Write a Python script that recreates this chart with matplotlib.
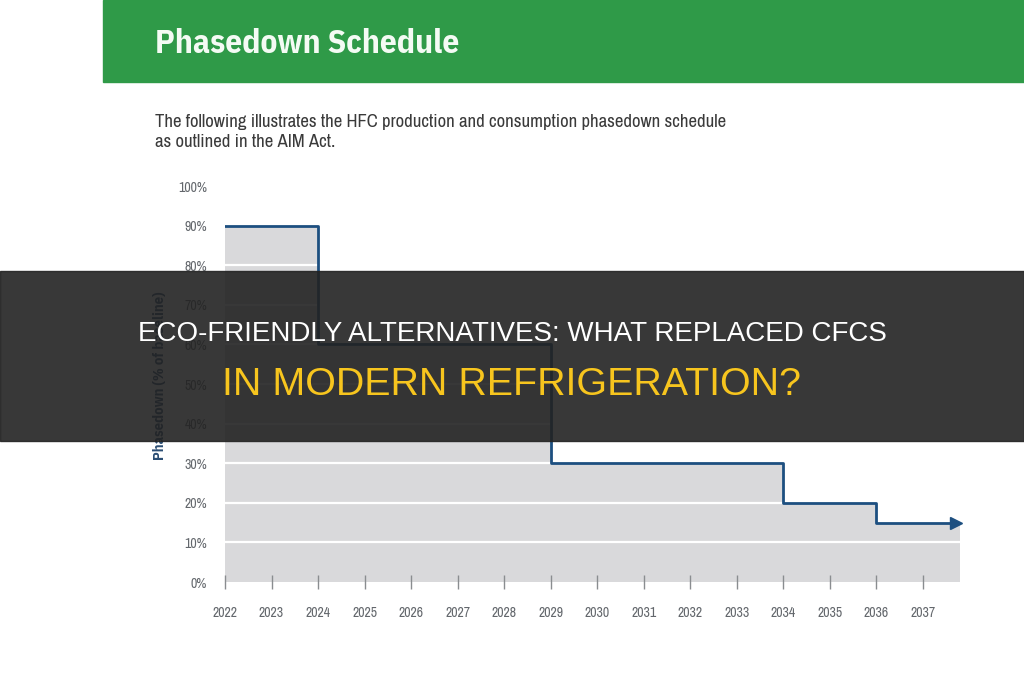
import matplotlib
matplotlib.use("Agg")
import matplotlib.pyplot as plt
from matplotlib.patches import Rectangle

# data
step_years = [2022, 2024, 2029, 2034, 2036, 2037.8]
step_values = [90, 60, 30, 20, 15, 15]
tick_years = list(range(2022, 2038))
y_ticks = [0, 10, 20, 30, 40, 50, 60, 70, 80, 90, 100]
grid_levels = [10, 20, 30, 40, 50, 60, 70, 80]

title = "Phasedown Schedule"
subtitle = ("The following illustrates the HFC production and consumption phasedown schedule\n"
            "as outlined in the AIM Act.")
overlay_1 = "ECO-FRIENDLY ALTERNATIVES: WHAT REPLACED CFCS"
overlay_2 = "IN MODERN REFRIGERATION?"

W, H = 1024, 680
narrow = ["Archivo Narrow", "IBM Plex Sans Condensed", "DejaVu Sans"]
head = ["Liberation Sans", "DejaVu Sans"]

fig = plt.figure(figsize=(W / 100, H / 100), dpi=100)
fig.patch.set_facecolor("white")

# green banner
fig.patches.append(Rectangle((103 / W, 1 - 82 / H), 1 - 103 / W, 82 / H,
                             transform=fig.transFigure, color="#2f9a48", zorder=0))
fig.text(155 / W, 1 - 44 / H, title, color="#f4fbf4", fontsize=24, fontweight="bold",
         family=["IBM Plex Sans Condensed", "DejaVu Sans"], va="center", ha="left")
fig.text(155 / W, 1 - 132 / H, subtitle, color="#3a3a3a", fontsize=13.5,
         family=narrow, va="center", ha="left", linespacing=1.3)

# chart axes: 2022 at px 225, 2038 at px 969; 0% at px 582, 100% at px 186
x0, x1 = 225, 225 + 16 * 46.53
y0, y1 = 582, 186
ax = fig.add_axes([x0 / W, 1 - y0 / H, (x1 - x0) / W, (y0 - y1) / H])
ax.set_xlim(2022, 2038)
ax.set_ylim(0, 100)
for s in ax.spines.values():
    s.set_visible(False)
ax.set_facecolor("none")

ax.fill_between(step_years, step_values, 0, step="post", color="#d9d9db", zorder=1, lw=0)
for g in grid_levels:
    ax.axhline(g, color="white", lw=1.6, zorder=2)
ax.step(step_years[:-1] + [step_years[-1] - 0.15], step_values[:-1] + [step_values[-1]],
        where="post", color="#1d4f80", lw=2, zorder=3)
ax.plot([step_years[-1] - 0.1], [step_values[-1]], marker=">", color="#1d4f80",
        markersize=9, zorder=4, clip_on=False)

ax.set_yticks(y_ticks)
ax.set_yticklabels([f"{v}%" for v in y_ticks])
ax.set_xticks(tick_years)
ax.set_xticklabels([str(y) for y in tick_years])
ax.tick_params(axis="y", length=0, pad=13, labelsize=10, labelcolor="#63676c")
ax.tick_params(axis="x", direction="inout", length=10, width=1, color="#8a8d90",
               pad=12, labelsize=10, labelcolor="#63676c")
for lab in ax.get_xticklabels() + ax.get_yticklabels():
    lab.set_family(narrow)

fig.text(160 / W, 1 - 376 / H, "Phasedown (% of baseline)", rotation=90,
         color="#2a4d73", fontsize=10.5, fontweight="bold",
         family=["IBM Plex Sans Condensed", "DejaVu Sans"], ha="center", va="center")

# dark overlay band with headline
fig.patches.append(Rectangle((0, 1 - 441 / H), 1, 170 / H, transform=fig.transFigure,
                             color="#222222", alpha=0.9, zorder=10))
fig.text(0.5, 1 - 334 / H, overlay_1, color="white", fontsize=20, family=head,
         ha="center", va="center", zorder=11)
fig.text(0.5, 1 - 385 / H, overlay_2, color="#f7c51e", fontsize=28.4, family=head,
         ha="center", va="center", zorder=11)

fig.savefig("out.png", dpi=100)
